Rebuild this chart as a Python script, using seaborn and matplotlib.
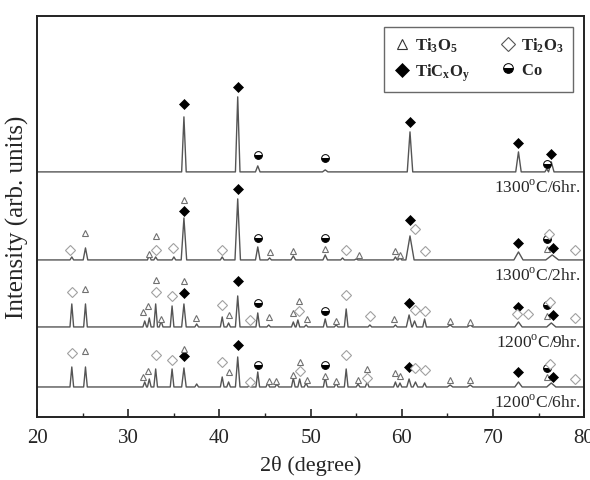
import numpy as np
import pandas as pd
import matplotlib
matplotlib.use("Agg")
import matplotlib.pyplot as plt
from matplotlib.lines import Line2D
from matplotlib.ticker import MultipleLocator
import seaborn as sns

sns.set_style("ticks")
plt.rcParams['font.family'] = ['Liberation Serif', 'DejaVu Serif']
plt.rcParams['mathtext.fontset'] = 'custom'
plt.rcParams['mathtext.rm'] = 'Liberation Serif'
plt.rcParams['mathtext.bf'] = 'Liberation Serif:bold'

# sample labels, top to bottom, and the vertical offset of each trace
samples = ["1300$^{\\rm o}$C/6hr.", "1300$^{\\rm o}$C/2hr.",
           "1200$^{\\rm o}$C/9hr.", "1200$^{\\rm o}$C/6hr."]
offsets = [245, 157, 90, 30]

# peak tables: 2theta, height, half width
peaks_1300_6 = [(36.1, 55, 0.25), (42.0, 75, 0.25), (44.2, 6, 0.25), (51.6, 2, 0.3),
                (60.9, 40, 0.3), (72.8, 20, 0.3), (75.9, 3, 0.2), (76.4, 10, 0.3)]
peaks_1300_2 = [(23.8, 3, 0.2), (25.3, 12, 0.25), (32.3, 5, 0.2), (33.0, 3, 0.2),
                (35.0, 3, 0.2), (36.1, 42, 0.3), (40.3, 3, 0.2), (42.0, 61, 0.3),
                (44.2, 13, 0.25), (45.5, 2, 0.2), (48.1, 4, 0.25), (51.6, 5, 0.25),
                (53.5, 2, 0.2), (55.0, 1, 0.2), (59.3, 3, 0.2), (59.8, 2, 0.2),
                (60.9, 24, 0.45), (72.8, 8, 0.5), (76.5, 5, 0.7)]
peaks_1200_9 = [(23.8, 23, 0.2), (25.3, 23, 0.2), (31.8, 6, 0.2), (32.3, 9, 0.2),
                (33.0, 23, 0.2), (33.6, 6, 0.2), (34.8, 21, 0.2), (36.1, 23, 0.25),
                (37.5, 3, 0.2), (40.3, 10, 0.2), (41.0, 4, 0.2), (42.0, 31, 0.25),
                (44.2, 14, 0.2), (45.4, 2, 0.2), (48.1, 5, 0.2), (48.6, 7, 0.2),
                (49.5, 2, 0.2), (51.6, 8, 0.2), (52.8, 2, 0.2), (53.9, 18, 0.2),
                (56.5, 2, 0.2), (59.3, 2, 0.2), (60.8, 12, 0.3), (61.4, 6, 0.25),
                (62.5, 8, 0.2), (65.3, 2, 0.3), (67.5, 2, 0.3), (72.8, 5, 0.4),
                (76.4, 4, 0.5)]
peaks_1200_6 = [(23.8, 20, 0.2), (25.3, 20, 0.2), (31.8, 5, 0.2), (32.3, 8, 0.2),
                (33.0, 18, 0.2), (34.8, 18, 0.2), (36.1, 19, 0.25), (37.5, 3, 0.2),
                (40.3, 10, 0.2), (41.0, 5, 0.2), (42.0, 30, 0.25), (43.3, 2, 0.2),
                (44.2, 15, 0.2), (45.3, 4, 0.2), (46.3, 3, 0.2), (48.1, 9, 0.2),
                (48.8, 8, 0.2), (49.5, 4, 0.2), (51.6, 10, 0.2), (52.8, 4, 0.2),
                (53.9, 18, 0.2), (55.2, 3, 0.2), (56.2, 5, 0.2), (59.3, 5, 0.2),
                (59.8, 4, 0.2), (60.8, 8, 0.25), (61.5, 5, 0.25), (62.5, 4, 0.2),
                (65.3, 2, 0.3), (67.5, 2, 0.3), (72.8, 5, 0.4), (76.4, 4, 0.5)]

# phase markers: 2theta, height above the trace baseline, phase
marks_1300_6 = [(36.1, 68, 'TiC'), (42.0, 85, 'TiC'), (44.2, 17, 'Co'), (51.6, 14, 'Co'),
                (60.9, 50, 'TiC'), (72.8, 29, 'TiC'), (75.9, 8, 'Co'), (76.4, 18, 'TiC')]
marks_1300_2 = [(23.6, 10, 'Ti2O3'), (25.3, 27, 'Ti3O5'), (32.3, 6, 'Ti3O5'),
                (33.0, 24, 'Ti3O5'), (33.0, 10, 'Ti2O3'), (34.9, 12, 'Ti2O3'),
                (36.1, 49, 'TiC'), (36.1, 60, 'Ti3O5'), (40.3, 10, 'Ti2O3'),
                (42.0, 71, 'TiC'), (44.2, 22, 'Co'), (45.5, 8, 'Ti3O5'),
                (48.1, 9, 'Ti3O5'), (51.6, 22, 'Co'), (51.6, 11, 'Ti3O5'),
                (53.9, 10, 'Ti2O3'), (55.3, 5, 'Ti3O5'), (59.3, 9, 'Ti3O5'),
                (59.8, 5, 'Ti3O5'), (60.9, 40, 'TiC'), (61.4, 31, 'Ti2O3'),
                (62.6, 9, 'Ti2O3'), (72.8, 17, 'TiC'), (75.9, 21, 'Co'),
                (75.9, 11, 'Ti3O5'), (76.2, 26, 'Ti2O3'), (76.6, 12, 'TiC'),
                (79.0, 10, 'Ti2O3')]
marks_1200_9 = [(23.8, 35, 'Ti2O3'), (25.3, 38, 'Ti3O5'), (31.6, 15, 'Ti3O5'),
                (32.2, 21, 'Ti3O5'), (33.0, 47, 'Ti3O5'), (33.0, 35, 'Ti2O3'),
                (33.6, 8, 'Ti3O5'), (34.8, 31, 'Ti2O3'), (36.1, 34, 'TiC'),
                (36.1, 46, 'Ti3O5'), (37.4, 9, 'Ti3O5'), (40.3, 22, 'Ti2O3'),
                (41.0, 12, 'Ti3O5'), (42.0, 46, 'TiC'), (43.3, 7, 'Ti2O3'),
                (44.2, 24, 'Co'), (45.4, 10, 'Ti3O5'), (48.1, 14, 'Ti3O5'),
                (48.7, 26, 'Ti3O5'), (48.7, 16, 'Ti2O3'), (49.6, 8, 'Ti3O5'),
                (51.6, 16, 'Co'), (52.8, 6, 'Ti3O5'), (53.9, 32, 'Ti2O3'),
                (56.5, 11, 'Ti2O3'), (59.2, 8, 'Ti3O5'), (60.8, 24, 'TiC'),
                (61.5, 17, 'Ti2O3'), (62.5, 16, 'Ti2O3'), (65.3, 6, 'Ti3O5'),
                (67.5, 5, 'Ti3O5'), (72.8, 20, 'TiC'), (72.6, 13, 'Ti2O3'),
                (73.8, 13, 'Ti2O3'), (75.9, 22, 'Co'), (76.3, 25, 'Ti2O3'),
                (75.9, 11, 'Ti3O5'), (76.6, 12, 'TiC'), (79.0, 9, 'Ti2O3')]
marks_1200_6 = [(23.8, 34, 'Ti2O3'), (25.3, 36, 'Ti3O5'), (31.6, 10, 'Ti3O5'),
                (32.2, 16, 'Ti3O5'), (33.0, 32, 'Ti2O3'), (34.8, 27, 'Ti2O3'),
                (36.1, 31, 'TiC'), (36.1, 38, 'Ti3O5'), (40.3, 25, 'Ti2O3'),
                (41.0, 15, 'Ti3O5'), (42.0, 42, 'TiC'), (43.3, 5, 'Ti2O3'),
                (44.2, 22, 'Co'), (45.4, 6, 'Ti3O5'), (46.2, 6, 'Ti3O5'),
                (48.1, 12, 'Ti3O5'), (48.8, 16, 'Ti2O3'), (48.8, 25, 'Ti3O5'),
                (49.6, 7, 'Ti3O5'), (51.6, 22, 'Co'), (51.6, 11, 'Ti3O5'),
                (52.8, 6, 'Ti3O5'), (53.9, 32, 'Ti2O3'), (55.2, 7, 'Ti3O5'),
                (56.2, 18, 'Ti3O5'), (56.2, 9, 'Ti2O3'), (59.3, 14, 'Ti3O5'),
                (59.8, 11, 'Ti3O5'), (60.8, 20, 'TiC'), (61.5, 19, 'Ti2O3'),
                (62.5, 17, 'Ti2O3'), (65.3, 7, 'Ti3O5'), (67.5, 7, 'Ti3O5'),
                (72.8, 15, 'TiC'), (75.9, 19, 'Co'), (76.3, 23, 'Ti2O3'),
                (75.9, 10, 'Ti3O5'), (76.6, 10, 'TiC'), (79.0, 8, 'Ti2O3')]

peak_tables = [peaks_1300_6, peaks_1300_2, peaks_1200_9, peaks_1200_6]
mark_tables = [marks_1300_6, marks_1300_2, marks_1200_9, marks_1200_6]

styles = {
    'Ti3O5': dict(marker='^', ms=5, mfc='white', mec='#707070', mew=0.8),
    'Ti2O3': dict(marker='D', ms=4.8, mfc='white', mec='#a0a0a0', mew=0.8),
    'TiC': dict(marker='D', ms=4.8, mfc='black', mec='black', mew=0.5),
    'Co': dict(marker='o', ms=5.6, mfc='black', mfcalt='white', mec='black',
               mew=0.7, fillstyle='bottom'),
}

fig, ax = plt.subplots(figsize=(5.9, 4.81), dpi=100)
fig.subplots_adjust(left=0.063, right=0.99, top=0.965, bottom=0.131)

for label, base, peaks, marks in zip(samples, offsets, peak_tables, mark_tables):
    xs, ys = [20.0], [0.0]
    for pos, h, w in sorted(peaks):
        xs += [pos - w, pos, pos + w]
        ys += [0.0, h, 0.0]
    xs.append(80.0)
    ys.append(0.0)
    df = pd.DataFrame({'two_theta': xs, 'intensity': np.array(ys) + base})
    sns.lineplot(data=df, x='two_theta', y='intensity', ax=ax, sort=False,
                 estimator=None, color='#555555', lw=1.0)
    for pos, h, phase in marks:
        ax.plot(pos, base + h, ls='none', **styles[phase])
    ax.text(79.6, base - 15, label, ha='right', va='center', fontsize=12.5)

ax.set_xlim(20, 80)
ax.set_ylim(0, 401)
ax.set_yticks([])
ax.xaxis.set_major_locator(MultipleLocator(10))
ax.xaxis.set_minor_locator(MultipleLocator(5))
ax.tick_params(axis='x', which='major', direction='in', length=6, width=1.2,
               labelsize=15, pad=8)
ax.tick_params(axis='x', which='minor', direction='in', length=3, width=1.0)
for sp in ax.spines.values():
    sp.set_linewidth(1.4)
    sp.set_color('#222222')
ax.set_xlabel('2θ (degree)', fontsize=16, labelpad=6)
ax.set_ylabel('Intensity (arb. units)', fontsize=18, labelpad=6)

handles = [Line2D([], [], ls='none', **styles['Ti3O5']),
           Line2D([], [], ls='none', **styles['TiC']),
           Line2D([], [], ls='none', **styles['Ti2O3']),
           Line2D([], [], ls='none', **styles['Co'])]
for hd in handles:
    hd.set_markersize(7)
handles[0].set_markeredgecolor('#333333')
handles[2].set_markeredgecolor('#555555')
names = [r'$\mathbf{Ti_3O_5}$', r'$\mathbf{TiC_xO_y}$',
         r'$\mathbf{Ti_2O_3}$', r'$\mathbf{Co}$']
leg = ax.legend(handles, names, ncol=2, loc='upper right',
                bbox_to_anchor=(0.98, 0.973), borderaxespad=0, fontsize=12,
                frameon=True, fancybox=False, handletextpad=0.3,
                columnspacing=1.8, handlelength=1.0, borderpad=0.55,
                labelspacing=0.45)
leg.get_frame().set_edgecolor('#444444')
leg.get_frame().set_linewidth(1.0)

fig.savefig('out.png', dpi=100)
